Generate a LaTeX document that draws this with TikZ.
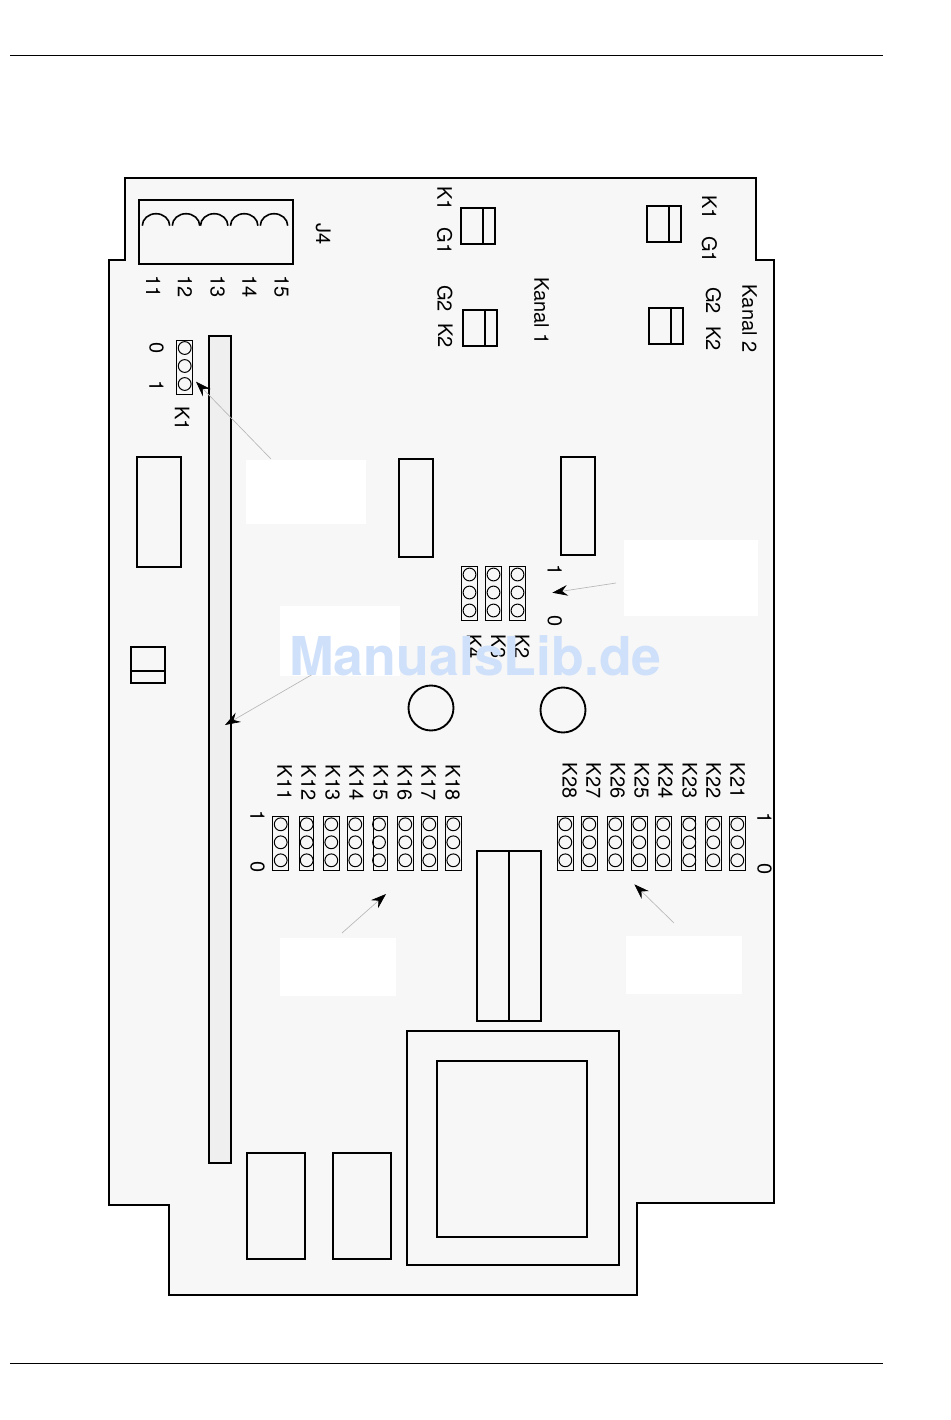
\documentclass[tikz,border=0pt]{standalone}
\usepackage{fontspec}
\setmainfont{TeX Gyre Heros}
\newfontfamily\lblfont{TeX Gyre Heros}
\newfontfamily\wmfont{TeX Gyre Heros}
\usetikzlibrary{arrows.meta}
\definecolor{boardfill}{HTML}{F7F7F7}
\definecolor{railfill}{HTML}{EFEFEF}
\definecolor{wmblue}{HTML}{CFE0FA}
\tikzset{
  x=0.75pt,y=-0.75pt,
  outline/.style={draw=black,line width=1.5pt,line join=miter},
  part/.style={draw=black,line width=1.4pt},
  thinpart/.style={draw=black,line width=0.75pt},
  lbl/.style={rotate=-90,inner sep=0pt,xshift=0.4pt,yshift=1.1pt,font=\lblfont\fontsize{15}{17}\selectfont,text=black},
  callout/.style={draw=black!28,line width=0.5pt,-{Stealth[color=black,length=11.5pt,width=8pt,inset=4pt]},shorten <=0pt},
  pad/.style={fill=white,draw=none},
}
\newcommand{\pinhdr}[4]{% x1 x2 ytop cx
  \draw[thinpart] (#1,#3) rectangle (#2,#3+54);
  \foreach \dy in {8,26,44}{\draw[thinpart] (#4,#3+\dy) circle[radius=6.4];}
}
\newcommand{\relay}[5]{% x1 y1 x2 y2 divider x
  \draw[part] (#1,#2) rectangle (#3,#4);
  \draw[part] (#5,#2) -- (#5,#4);
}
\begin{document}
\begin{tikzpicture}
\useasboundingbox (0,0) rectangle (950,1420);
\fill[white] (0,0) rectangle (950,1420);
% page rules
\draw[black,line width=0.6pt] (10,55) -- (883,55);
\draw[black,line width=0.6pt] (10,1363) -- (883,1363);
% board
\draw[outline,fill=boardfill] (125,178) -- (756,178) -- (756,260) -- (774,260) -- (774,1203) -- (637,1203) -- (637,1295) -- (169,1295) -- (169,1205) -- (109,1205) -- (109,260) -- (125,260) -- cycle;
% white label pads
\fill[pad] (246,460) rectangle (366,524);
\fill[pad] (624,540) rectangle (758,616);
\fill[pad] (280,606) rectangle (400,676);
\fill[pad] (280,938) rectangle (396,996);
\fill[pad] (626,936) rectangle (742,994);
% rail
\draw[part,fill=railfill] (209,336) rectangle (231,1163);
% J4
\draw[part] (139,200) rectangle (293,264);
\foreach \cx in {156,186,214.2,244.2,274}{
  \draw[black,line width=1.2pt] (\cx-13.7,225.7) arc[start angle=180,end angle=0,x radius=13.7,y radius=-12];
}
% relays
\relay{460.7}{207.7}{495.3}{244}{482.7}
\relay{462.7}{309.7}{497.3}{346}{484.7}
\relay{646.7}{205.7}{681.3}{242}{668.7}
\relay{648.7}{307.7}{683.3}{344}{670.7}
\draw[part] (131,647) rectangle (165,683);
\draw[part] (131,671) -- (165,671);
% blocks
\draw[part] (137,457) rectangle (181,567);
\draw[part] (399,459) rectangle (433,557);
\draw[part] (561,457) rectangle (595,555);
\draw[part] (431,708) circle[radius=22.5];
\draw[part] (563,710) circle[radius=22.5];
\relay{477}{851}{541}{1021}{509}
\draw[part] (407,1031) rectangle (619,1265);
\draw[part] (437,1061) rectangle (587,1237);
\draw[part] (247,1153) rectangle (305,1259);
\draw[part] (333,1153) rectangle (391,1259);
% pin headers
\pinhdr{176.3}{192.7}{340}{184.7}
\pinhdr{461.3}{477.7}{566.5}{469.5}
\pinhdr{485.3}{501.7}{566.5}{493.5}
\pinhdr{509.3}{525.7}{566.5}{517.5}
\foreach \xa/\xb/\c in {272.3/288.3/280.7,299.3/313.7/306.7,323.3/339.3/331.3,347.3/363.3/355.3,373.3/387.3/379,397.3/413.3/405.3,421.3/437.3/429.3,445.3/461.3/453.3,
 557.3/573.3/565.3,581.3/597.3/589.3,607.3/623.3/615.3,631.3/647.3/639.3,655.3/671.3/663.3,681.3/695.3/689.3,705.3/721.3/713.3,729.3/745.3/737.3}{
  \pinhdr{\xa}{\xb}{816.3}{\c}
}
% labels
\foreach \n/\t/\x/\y in {
 lJ/J4/321.7/234, l11/11/151.7/286, l12/12/183.5/286, l13/13/216/286, l14/14/248/286, l15/15/280/286,
 lz/0/155/347.7, lo/1/155/386, lK/K1/180.7/418,
 aK1/K1/443.3/198, aG1/G1/443.3/240.7, aG2/G2/443.5/298, aK2/K2/444/335, aKn/Kanal 1/540/310.5,
 bK1/K1/708/206.7, bG1/G1/708/249, bG2/G2/712/300, bK2/K2/712/338, bKn/Kanal 2/748/318,
 mo/1/553.3/570, mz/0/553.3/621, mK4/K4/472.7/646, mK3/K3/496.7/646, mK2/K2/520.7/646,
 ko/1/256/816, kz/0/256/867, jo/1/763/818, jz/0/763/869,
 k11/K11/283.3/782, k12/K12/307.3/782, k13/K13/331.3/782, k14/K14/355.3/782, k15/K15/379.3/782, k16/K16/403.3/782, k17/K17/427.3/782, k18/K18/451.3/782,
 k28/K28/568.3/780, k27/K27/592.3/780, k26/K26/616.3/780, k25/K25/640.3/780, k24/K24/664.3/780, k23/K23/688.3/780, k22/K22/712.3/780, k21/K21/736.3/780}{
  \node[lbl] (\n) at (\x,\y) {\t};
}
% callouts
\coordinate (c1a) at (271,459); \coordinate (c1b) at (196,381.7);
\coordinate (c2a) at (616,583); \coordinate (c2b) at (552.3,592.7);
\coordinate (c3a) at (313,674); \coordinate (c3b) at (225,725);
\coordinate (c4a) at (342,933); \coordinate (c4b) at (386,894);
\coordinate (c5a) at (674,923); \coordinate (c5b) at (634.3,884.3);
\draw[callout] (c1a) -- (c1b);
\draw[callout] (c2a) -- (c2b);
\draw[callout] (c3a) -- (c3b);
\draw[callout] (c4a) -- (c4b);
\draw[callout] (c5a) -- (c5b);
% watermark
\node[inner sep=0pt,text=wmblue,font=\wmfont\bfseries\fontsize{40.2}{44}\selectfont] (wm) at (475.5,656) {ManualsLib.de};
\end{tikzpicture}
\end{document}
